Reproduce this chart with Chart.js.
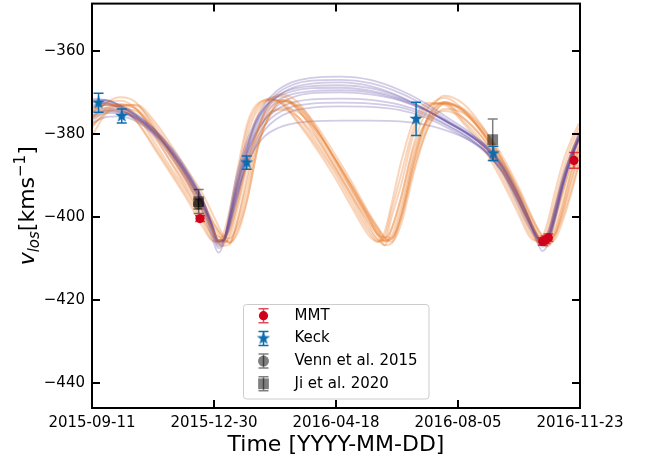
<!DOCTYPE html>
<html>
<head>
<meta charset="utf-8">
<script src="https://cdn.jsdelivr.net/npm/chart.js@4.4.1/dist/chart.umd.min.js"></script>
<style>
  html, body { margin: 0; padding: 0; background: #fff; }
</style>
</head>
<body>
<canvas id="rvChart" width="645" height="460"></canvas>
<script>
// x values are days counted from 2015-09-11
var tickDays = [0, 110, 220, 330, 440];
var tickLabels = ["2015-09-11", "2015-12-30", "2016-04-18", "2016-08-05", "2016-11-23"];
var velTicks = [-440, -420, -400, -380, -360];

// observed line-of-sight velocities (km/s)
var mmtDays = [97.4, 406.4, 409.0, 411.5, 434.6];
var mmtVel  = [-400.4, -405.9, -405.5, -405.0, -386.4];
var mmtErr  = [0.7, 0.9, 0.9, 0.9, 1.9];

var keckDays = [5.9, 26.8, 139.5, 292.2, 361.9];
var keckVel  = [-372.5, -375.7, -386.9, -376.4, -384.7];
var keckErr  = [2.3, 1.7, 1.6, 4.0, 1.7];

var vennDays = [95.9];
var vennVel  = [-396.9];
var vennErr  = [1.2];

var jiDays = [96.2, 361.3];
var jiVel  = [-396.3, -381.4];
var jiErr  = [2.9, 5.0];

// orbit fit samples, short-period solutions (orange)
var orangeDays = [0, 13, 26, 40, 55, 72, 88, 100, 110, 117, 124, 132, 140, 150, 161, 172, 186, 201, 218, 235,
                  250, 258, 264, 270, 279, 290, 303, 318, 335, 352, 368, 384, 396, 404, 410, 417, 425, 432, 439];
var orangeFitA = [-376.1, -373.6, -372.8, -374.2, -379.0, -386.0, -392.8, -398.5, -403.8, -406.2, -405.0, -397.2, -387.5, -378.5, -372.8, -371.8, -374.3, -379.3, -386.5, -394.0,
                  -400.8, -404.3, -406.0, -404.6, -397.0, -385.0, -376.0, -372.3, -374.5, -379.5, -386.2, -394.5, -401.5, -405.3, -406.2, -403.0, -396.0, -389.0, -383.0];
var orangeFitB = [-378.5, -374.5, -373.0, -373.2, -377.3, -384.0, -390.8, -396.2, -401.5, -404.6, -406.3, -402.5, -395.5, -382.8, -375.0, -372.0, -373.2, -377.5, -384.5, -392.0,
                  -399.2, -402.6, -405.0, -406.0, -401.5, -389.5, -378.5, -372.6, -374.0, -378.5, -384.5, -392.5, -399.5, -403.8, -405.8, -405.5, -400.5, -394.5, -387.5];
var orangeFitC = [-374.5, -373.0, -373.1, -375.6, -381.5, -388.5, -395.0, -400.8, -405.2, -405.8, -401.6, -391.8, -380.5, -373.8, -371.8, -372.4, -376.0, -381.5, -388.3, -396.0,
                  -403.0, -405.6, -405.7, -400.2, -392.0, -380.0, -373.5, -372.5, -376.3, -381.0, -388.2, -396.6, -403.7, -406.0, -404.8, -398.3, -390.5, -384.5, -379.5];
var orangeFitD = [-376.5, -372.5, -371.2, -372.5, -378.0, -385.5, -392.5, -398.3, -403.8, -407.0, -406.6, -400.0, -390.0, -379.0, -371.8, -370.5, -372.5, -378.0, -385.8, -393.8,
                  -400.8, -404.6, -406.8, -406.4, -400.0, -387.0, -375.8, -370.8, -372.8, -378.2, -385.3, -394.0, -401.5, -405.8, -407.2, -405.0, -398.0, -391.0, -384.5];
var orangeFitE = [-375.6, -374.5, -374.6, -376.0, -380.5, -387.0, -393.6, -399.2, -403.8, -405.0, -403.2, -396.0, -386.5, -378.6, -374.8, -374.2, -376.0, -380.6, -387.5, -395.0,
                  -401.5, -404.3, -405.0, -403.0, -395.0, -383.5, -376.6, -374.5, -376.2, -380.8, -387.5, -395.6, -402.0, -404.8, -404.6, -400.5, -393.5, -387.5, -382.0];
var orangeFitF = [-380.5, -375.0, -373.2, -373.0, -376.5, -383.0, -389.5, -394.6, -400.0, -403.8, -406.2, -403.5, -396.0, -382.8, -375.0, -371.9, -373.5, -378.5, -385.5, -393.2,
                  -400.2, -403.7, -405.8, -405.3, -398.5, -386.0, -376.2, -372.3, -374.8, -379.8, -386.5, -395.0, -402.0, -406.0, -407.0, -404.0, -396.8, -389.5, -383.5];
var orangeFitG = [-374.6, -372.9, -373.6, -377.0, -383.0, -390.0, -396.8, -402.5, -406.0, -405.0, -398.5, -387.5, -377.5, -372.6, -371.8, -373.0, -377.5, -383.0, -390.0, -398.0,
                  -404.6, -406.0, -403.5, -397.0, -386.5, -376.8, -372.5, -373.0, -377.5, -383.0, -390.5, -399.0, -405.2, -405.8, -402.0, -394.5, -386.5, -381.5, -377.5];
var orangeFitH = [-377.3, -374.0, -373.2, -373.9, -378.3, -385.0, -391.8, -397.4, -402.6, -405.4, -405.9, -400.0, -391.5, -380.7, -373.9, -372.2, -373.8, -378.4, -385.5, -393.0,
                  -400.0, -403.4, -405.5, -405.4, -399.3, -387.3, -377.3, -372.8, -374.3, -379.0, -385.4, -393.5, -400.5, -404.6, -406.0, -404.3, -398.3, -391.8, -385.3];
var orangeFitI = [-375.0, -372.3, -372.0, -374.0, -379.6, -387.3, -394.5, -400.3, -405.0, -407.0, -404.0, -395.0, -383.8, -375.0, -371.3, -371.0, -374.3, -380.0, -387.5, -395.3,
                  -402.2, -405.5, -406.8, -403.0, -395.0, -382.5, -374.0, -371.3, -374.3, -379.8, -387.3, -395.8, -403.0, -406.8, -406.5, -401.5, -393.8, -386.8, -380.8];
var orangeFitJ = [-378.0, -375.0, -374.0, -374.5, -378.5, -385.0, -391.8, -397.0, -401.8, -404.4, -405.2, -401.5, -393.5, -382.0, -375.5, -373.8, -374.8, -378.8, -385.5, -392.8,
                  -399.6, -402.8, -404.9, -405.0, -400.0, -388.5, -378.5, -374.0, -375.0, -379.5, -385.5, -393.2, -400.0, -403.8, -405.2, -404.5, -399.5, -393.5, -387.0];
var orangeFitK = [-373.8, -372.6, -373.8, -376.8, -382.5, -389.3, -396.0, -401.5, -405.8, -405.8, -400.0, -389.5, -378.8, -373.0, -371.5, -372.8, -377.0, -382.3, -389.0, -397.0,
                  -403.8, -406.0, -404.8, -398.5, -389.5, -378.5, -373.0, -372.7, -377.0, -382.0, -389.5, -398.0, -404.5, -406.2, -403.5, -396.5, -388.5, -382.8, -378.5];

// orbit fit samples, long-period solutions (purple)
var purpleDays = [0, 12, 25, 40, 55, 72, 88, 100, 108, 114, 119, 124, 130, 138, 147, 156, 166, 180, 198, 224,
                  251, 278, 300, 320, 340, 356, 370, 382, 392, 400, 406, 412, 418, 425, 432, 439];
var purpleFitA = [-372.5, -372.0, -373.2, -375.5, -379.0, -384.8, -391.5, -397.5, -403.5, -407.0, -405.5, -400.0, -392.5, -384.5, -377.5, -372.8, -369.8, -367.6, -366.5, -366.2,
                  -367.0, -369.5, -372.5, -376.0, -379.5, -383.0, -387.5, -393.5, -399.0, -403.5, -406.3, -404.5, -399.0, -391.5, -385.5, -381.0];
var purpleFitB = [-374.0, -373.0, -373.6, -375.5, -378.5, -383.8, -390.2, -396.2, -402.0, -406.0, -405.8, -401.5, -394.0, -385.8, -379.0, -374.5, -371.3, -369.0, -367.9, -367.6,
                  -368.5, -371.0, -374.0, -377.2, -380.4, -383.6, -388.0, -393.8, -399.5, -404.0, -406.8, -405.0, -399.5, -392.0, -386.0, -381.5];
var purpleFitC = [-373.0, -372.6, -374.0, -376.5, -380.0, -385.8, -392.5, -399.0, -404.8, -408.6, -406.0, -399.0, -390.5, -383.0, -377.0, -373.5, -371.3, -369.8, -369.0, -368.9,
                  -369.6, -371.5, -374.0, -377.0, -380.0, -383.0, -387.2, -393.0, -399.0, -405.0, -408.2, -406.0, -400.0, -392.5, -386.0, -381.0];
var purpleFitD = [-375.5, -374.2, -374.5, -376.0, -378.8, -383.5, -389.8, -395.8, -401.5, -405.5, -405.5, -402.0, -395.5, -387.5, -380.8, -376.5, -373.5, -371.3, -370.2, -370.0,
                  -370.5, -372.0, -374.3, -377.0, -380.2, -383.8, -388.5, -394.5, -400.0, -404.3, -406.0, -403.5, -397.5, -390.5, -385.0, -380.5];
var purpleFitE = [-371.5, -371.8, -373.0, -375.2, -378.6, -384.0, -390.8, -396.8, -402.5, -406.2, -405.2, -400.5, -393.5, -386.0, -380.2, -376.5, -374.2, -372.5, -371.7, -371.5,
                  -371.8, -373.0, -375.0, -377.8, -381.0, -384.5, -389.0, -395.0, -400.5, -404.8, -406.5, -404.0, -398.0, -390.8, -385.0, -380.2];
var purpleFitF = [-376.5, -375.0, -375.0, -376.5, -379.5, -384.5, -390.5, -396.2, -401.8, -405.8, -405.6, -402.5, -396.5, -389.0, -383.0, -379.0, -376.5, -374.6, -373.7, -373.4,
                  -373.5, -374.3, -376.0, -378.5, -381.5, -384.8, -389.2, -395.0, -400.3, -404.2, -405.8, -403.0, -397.0, -389.8, -384.5, -380.0];
var purpleFitG = [-377.5, -376.0, -375.8, -377.0, -379.8, -384.8, -391.0, -397.0, -402.5, -406.0, -405.0, -401.0, -395.0, -388.5, -383.5, -380.5, -378.8, -377.6, -377.0, -376.8,
                  -376.8, -377.0, -377.8, -379.2, -381.5, -384.5, -389.5, -396.0, -401.5, -405.0, -406.8, -404.5, -398.5, -391.5, -386.0, -381.2];
var purpleFitH = [-373.5, -372.5, -373.4, -375.8, -379.2, -384.6, -391.0, -397.0, -402.8, -406.5, -405.6, -400.8, -393.2, -385.2, -378.2, -373.6, -370.5, -368.3, -367.2, -367.0,
                  -367.8, -370.2, -373.2, -376.6, -380.0, -383.3, -387.8, -393.7, -399.3, -403.8, -406.5, -404.8, -399.3, -391.8, -385.8, -381.3];
var purpleFitI = [-372.0, -371.8, -373.2, -375.8, -379.5, -385.0, -391.5, -397.8, -403.8, -407.5, -406.0, -400.0, -391.8, -384.0, -377.8, -373.8, -371.0, -369.3, -368.5, -368.3,
                  -369.0, -371.2, -374.0, -377.0, -380.2, -383.4, -387.8, -393.5, -399.2, -404.2, -407.2, -405.5, -400.0, -392.2, -386.0, -381.2];
var purpleFitJ = [-374.8, -373.8, -374.3, -376.2, -379.2, -384.2, -390.5, -396.5, -402.0, -405.8, -405.5, -401.5, -394.5, -386.5, -379.8, -375.3, -372.3, -370.5, -369.7, -369.5,
                  -370.0, -371.8, -374.2, -377.2, -380.3, -383.7, -388.2, -394.0, -399.7, -404.2, -406.3, -404.2, -398.5, -391.2, -385.5, -380.8];
var purpleFitK = [-376.0, -374.6, -374.8, -376.3, -379.2, -384.2, -390.2, -396.0, -401.6, -405.6, -405.6, -402.3, -396.0, -388.3, -382.0, -377.8, -375.3, -373.5, -372.7, -372.5,
                  -372.7, -373.6, -375.5, -378.0, -381.0, -384.5, -389.0, -394.8, -400.2, -404.3, -406.0, -403.3, -397.3, -390.2, -384.8, -380.3];

var orangeFits = [orangeFitA, orangeFitB, orangeFitC, orangeFitD, orangeFitE, orangeFitF, orangeFitG, orangeFitH, orangeFitI, orangeFitJ, orangeFitK];
var purpleFits = [purpleFitA, purpleFitB, purpleFitC, purpleFitD, purpleFitE, purpleFitF, purpleFitG, purpleFitH, purpleFitI, purpleFitJ, purpleFitK];

//Colours
var mmtColor = "#d0021b";
var mmtErrColor = "rgba(208,2,27,0.7)";
var keckColor = "#0b6db0";
var grayColor = "rgba(0,0,0,0.5)";
var orangeLine = "rgba(232,115,30,0.3)";
var purpleLine = "rgba(90,70,160,0.28)";
var fontName = '"DejaVu Sans"';

//filled star marker like matplotlib "*"
function makeStar(color, r) {
  var c = document.createElement("canvas");
  var s = Math.ceil(r * 2 + 2);
  c.width = s; c.height = s;
  var g = c.getContext("2d");
  g.fillStyle = color;
  g.beginPath();
  for (var k = 0; k < 10; k++) {
    var rad = k % 2 === 0 ? r : r * 0.4;
    var a = -Math.PI / 2 + k * Math.PI / 5;
    var px = s / 2 + rad * Math.cos(a), py = s / 2 + rad * Math.sin(a);
    if (k === 0) g.moveTo(px, py); else g.lineTo(px, py);
  }
  g.closePath();
  g.fill();
  return c;
}
var starImg = makeStar(keckColor, 7);

function toPoints(xs, ys) {
  return xs.map(function(x, i) { return { x: x, y: ys[i] }; });
}

var datasets = [];

// observed points on top
datasets.push({
  label: "MMT", data: toPoints(mmtDays, mmtVel), errBars: mmtErr, errColor: mmtErrColor,
  showLine: false, pointStyle: "circle", pointRadius: 4.6, pointBorderWidth: 0,
  backgroundColor: mmtColor, borderColor: mmtColor, order: 0
});
datasets.push({
  label: "Keck", data: toPoints(keckDays, keckVel), errBars: keckErr, errColor: keckColor,
  showLine: false, pointStyle: starImg, pointRadius: 7, pointBorderWidth: 0,
  backgroundColor: keckColor, borderColor: keckColor, order: 1
});
datasets.push({
  label: "Venn et al. 2015", data: toPoints(vennDays, vennVel), errBars: vennErr, errColor: grayColor,
  showLine: false, pointStyle: "circle", pointRadius: 5.5, pointBorderWidth: 0,
  backgroundColor: grayColor, borderColor: grayColor, order: 2
});
datasets.push({
  label: "Ji et al. 2020", data: toPoints(jiDays, jiVel), errBars: jiErr, errColor: grayColor,
  showLine: false, pointStyle: "rect", pointRadius: 7.6, pointBorderWidth: 0,
  backgroundColor: grayColor, borderColor: grayColor, order: 3
});

// fit curves underneath, purple and orange interleaved
for (var i = 0; i < orangeFits.length; i++) {
  datasets.push({
    data: toPoints(orangeDays, orangeFits[i]), borderColor: orangeLine, borderWidth: 2,
    pointRadius: 0, cubicInterpolationMode: "monotone", fill: false, order: 10 + i * 2
  });
  datasets.push({
    data: toPoints(purpleDays, purpleFits[i]), borderColor: purpleLine, borderWidth: 1.8,
    pointRadius: 0, cubicInterpolationMode: "monotone", fill: false, order: 11 + i * 2
  });
}

//error bars drawn just before the markers of each series
var errorBarPlugin = {
  id: "errorBars",
  beforeDatasetDraw: function(chart, args) {
    var ds = chart.data.datasets[args.index];
    if (!ds.errBars) return;
    var ctx = chart.ctx, xs = chart.scales.x, ys = chart.scales.y;
    ctx.save();
    ctx.strokeStyle = ds.errColor;
    ctx.lineWidth = 1.5;
    ds.data.forEach(function(p, k) {
      var px = xs.getPixelForValue(p.x);
      var top = ys.getPixelForValue(p.y + ds.errBars[k]);
      var bot = ys.getPixelForValue(p.y - ds.errBars[k]);
      ctx.beginPath();
      ctx.moveTo(px, top); ctx.lineTo(px, bot);
      ctx.moveTo(px - 5, top); ctx.lineTo(px + 5, top);
      ctx.moveTo(px - 5, bot); ctx.lineTo(px + 5, bot);
      ctx.stroke();
    });
    ctx.restore();
  }
};

//box around the plot with inward ticks on all sides
//(chart.js keeps a few px above the area for the top tick label, the box is drawn 4px higher)
var framePlugin = {
  id: "frame",
  afterDatasetsDraw: function(chart) {
    var a = chart.chartArea, ctx = chart.ctx, xs = chart.scales.x, ys = chart.scales.y;
    var top = a.top - 4;
    ctx.save();
    ctx.strokeStyle = "#000";
    ctx.lineWidth = 2;
    ctx.strokeRect(a.left, top, a.right - a.left, a.bottom - top);
    ctx.beginPath();
    tickDays.forEach(function(d) {
      var px = Math.round(xs.getPixelForValue(d));
      ctx.moveTo(px, a.bottom); ctx.lineTo(px, a.bottom - 8);
      ctx.moveTo(px, top); ctx.lineTo(px, top + 8);
    });
    velTicks.forEach(function(v) {
      var py = Math.round(ys.getPixelForValue(v));
      ctx.moveTo(a.left, py); ctx.lineTo(a.left + 8, py);
      ctx.moveTo(a.right, py); ctx.lineTo(a.right - 8, py);
    });
    ctx.stroke();
    ctx.restore();
  }
};

//y axis title with sub/superscripts
var yTitlePlugin = {
  id: "yTitle",
  afterDraw: function(chart) {
    var ctx = chart.ctx, a = chart.chartArea;
    var parts = [
      { t: "v", f: "italic 22px " + fontName, dy: 0 },
      { t: "los", f: "italic 15px " + fontName, dy: 5 },
      { t: "[kms", f: "22px " + fontName, dy: 0 },
      { t: "\u22121", f: "15px " + fontName, dy: -9 },
      { t: "]", f: "22px " + fontName, dy: 0 }
    ];
    var total = 0;
    parts.forEach(function(p) { ctx.font = p.f; p.w = ctx.measureText(p.t).width; total += p.w; });
    ctx.save();
    ctx.translate(34, (a.top - 4 + a.bottom) / 2 + total / 2);
    ctx.rotate(-Math.PI / 2);
    ctx.fillStyle = "#000";
    ctx.textBaseline = "alphabetic";
    var x = 0;
    parts.forEach(function(p) { ctx.font = p.f; ctx.fillText(p.t, x, p.dy); x += p.w; });
    ctx.restore();
  }
};

//legend box like matplotlib
var legendPlugin = {
  id: "boxLegend",
  afterDraw: function(chart) {
    var ctx = chart.ctx;
    var bx = 243.5, by = 304.5, bw = 185.5, bh = 94.5, r = 3;
    ctx.save();
    ctx.beginPath();
    ctx.moveTo(bx + r, by);
    ctx.arcTo(bx + bw, by, bx + bw, by + bh, r);
    ctx.arcTo(bx + bw, by + bh, bx, by + bh, r);
    ctx.arcTo(bx, by + bh, bx, by, r);
    ctx.arcTo(bx, by, bx + bw, by, r);
    ctx.closePath();
    ctx.fillStyle = "rgba(255,255,255,0.8)";
    ctx.fill();
    ctx.strokeStyle = "#cccccc";
    ctx.lineWidth = 1;
    ctx.stroke();

    var mx = 263.5;
    for (var k = 0; k < 4; k++) {
      var ds = chart.data.datasets[k];
      var y = 315.7 + k * 22.7;
      ctx.strokeStyle = ds.errColor;
      ctx.lineWidth = 1.5;
      ctx.beginPath();
      ctx.moveTo(mx, y - 7); ctx.lineTo(mx, y + 7);
      ctx.moveTo(mx - 5, y - 7); ctx.lineTo(mx + 5, y - 7);
      ctx.moveTo(mx - 5, y + 7); ctx.lineTo(mx + 5, y + 7);
      ctx.stroke();
      ctx.fillStyle = ds.backgroundColor;
      if (ds.pointStyle === "circle") {
        ctx.beginPath(); ctx.arc(mx, y, ds.pointRadius, 0, Math.PI * 2); ctx.fill();
      } else if (ds.pointStyle === "rect") {
        var h = ds.pointRadius * Math.SQRT1_2;
        ctx.fillRect(mx - h, y - h, 2 * h, 2 * h);
      } else {
        ctx.drawImage(ds.pointStyle, mx - ds.pointStyle.width / 2, y - ds.pointStyle.height / 2);
      }
      ctx.fillStyle = "#000";
      ctx.font = "15px " + fontName;
      ctx.textBaseline = "middle";
      ctx.textAlign = "left";
      ctx.fillText(ds.label, 294.5, y);
    }
    ctx.restore();
  }
};

var ctx = document.getElementById("rvChart").getContext("2d");
var chart = new Chart(ctx, {
  type: "line",
  data: { datasets: datasets },
  plugins: [errorBarPlugin, framePlugin, yTitlePlugin, legendPlugin],
  options: {
    responsive: false,
    animation: false,
    devicePixelRatio: 1,
    layout: { padding: { left: 0, right: 65, top: 0, bottom: 0 } },
    plugins: { legend: { display: false }, tooltip: { enabled: false } },
    scales: {
      x: {
        type: "linear", min: 0, max: 440,
        afterBuildTicks: function(s) { s.ticks = tickDays.map(function(v) { return { value: v }; }); },
        afterFit: function(s) { s.height = 52; s.paddingLeft = 0; s.paddingRight = 0; },
        grid: { display: false, drawTicks: false },
        border: { display: false },
        ticks: {
          autoSkip: false, maxRotation: 0, padding: 6, color: "#000",
          font: { family: "DejaVu Sans", size: 15 },
          callback: function(value, index) { return tickLabels[index]; }
        },
        title: {
          display: true, text: "Time [YYYY-MM-DD]", color: "#000",
          font: { family: "DejaVu Sans", size: 22 }, padding: { top: 0, bottom: 2 }
        }
      },
      y: {
        type: "linear", min: -446.0, max: -349.6,
        afterBuildTicks: function(s) { s.ticks = velTicks.map(function(v) { return { value: v }; }); },
        afterFit: function(s) { s.width = 92; s.paddingTop = 0; s.paddingBottom = 0; },
        grid: { display: false, drawTicks: false },
        border: { display: false },
        ticks: {
          padding: 7, color: "#000",
          font: { family: "DejaVu Sans", size: 15 },
          callback: function(value) { return (value < 0 ? "\u2212" : "") + Math.abs(value); }
        }
      }
    }
  }
});
</script>
</body>
</html>
